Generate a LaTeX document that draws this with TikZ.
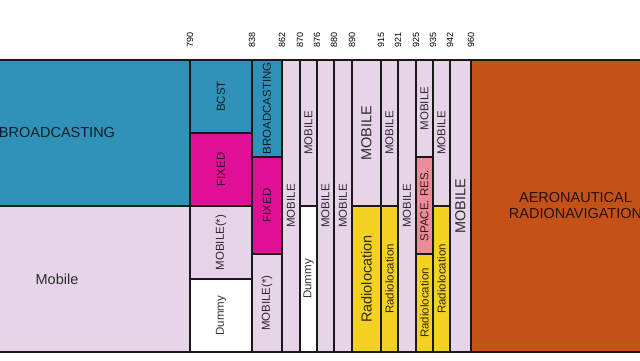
\documentclass[tikz,border=0pt]{standalone}
\usepackage{fontspec}
\setmainfont{Liberation Sans}
\definecolor{bcst}{RGB}{48,146,184}
\definecolor{fixed}{RGB}{224,16,150}
\definecolor{mobile}{RGB}{232,212,232}
\definecolor{radioloc}{RGB}{244,210,36}
\definecolor{spaceres}{RGB}{236,140,152}
\definecolor{aeronav}{RGB}{196,82,24}
\tikzset{
  cell/.style = {draw=black!90, line width=1.3pt},
  big/.style = {font=\fontsize{14.5}{16}\selectfont, text=black, text opacity=0.8},
  small/.style = {font=\fontsize{11.5}{13}\selectfont, text=black, text opacity=0.8},
  tick/.style = {font=\fontsize{9}{10}\selectfont, rotate=90, anchor=west, inner sep=0pt}
}
% \Band[label style]{name}{x1}{y1}{x2}{y2}{fill}{text}
\newcommand{\Band}[8][small,rotate=90]{%
  \draw[cell,fill=#7] (#3,#4) rectangle (#5,#6);
  \node[#1] (#2) at ({(#3+#5)/2},{(#4+#6)/2}) {#8};}

\begin{document}
\begin{tikzpicture}[x=1pt,y=-1pt]
   \useasboundingbox (0,0) rectangle (640,360);
   \clip (0,0) rectangle (640,360);
   \fill[white] (0,0) rectangle (640,360);
   % up to 790
   \Band[big]{Bcast}{-76}{60}{190}{206}{bcst}{BROADCASTING}
   \Band[big]{Mob}{-76}{206}{190}{352}{mobile}{Mobile}
   % 790 - 838
   \Band{Bcst790}{190}{60}{252}{133}{bcst}{BCST}
   \Band{Fix790}{190}{133}{252}{206}{fixed}{FIXED}
   \Band{Mob790}{190}{206}{252}{279}{mobile}{MOBILE(*)}
   \Band{Dum790}{190}{279}{252}{352}{white}{Dummy}
   % 838 - 862
   \Band{Bcast838}{252}{60}{282}{157}{bcst}{BROADCASTING}
   \Band{Fix838}{252}{157}{282}{254}{fixed}{FIXED}
   \Band{Mob838}{252}{254}{282}{352}{mobile}{MOBILE(*)}
   % 862 - 890
   \Band{Mob862}{282}{60}{300}{352}{mobile}{MOBILE}
   \Band{Mob870}{300}{60}{317}{206}{mobile}{MOBILE}
   \Band{Dum870}{300}{206}{317}{352}{white}{Dummy}
   \Band{Mob876}{317}{60}{334}{352}{mobile}{MOBILE}
   \Band{Mob880}{334}{60}{352}{352}{mobile}{MOBILE}
   % 890 - 960
   \Band[big,rotate=90]{Mob890}{352}{60}{381}{206}{mobile}{MOBILE}
   \Band[big,rotate=90]{Rad890}{352}{206}{381}{352}{radioloc}{Radiolocation}
   \Band{Mob915}{381}{60}{398}{206}{mobile}{MOBILE}
   \Band{Rad915}{381}{206}{398}{352}{radioloc}{Radiolocation}
   \Band{Mob921}{398}{60}{416}{352}{mobile}{MOBILE}
   \Band{Mob925}{416}{60}{433}{157}{mobile}{MOBILE}
   \Band{Spc925}{416}{157}{433}{254}{spaceres}{SPACE. RES.}
   \Band{Rad925}{416}{254}{433}{352}{radioloc}{Radiolocation}
   \Band{Mob935}{433}{60}{450}{206}{mobile}{MOBILE}
   \Band{Rad935}{433}{206}{450}{352}{radioloc}{Radiolocation}
   \Band[big,rotate=90]{Mob942}{450}{60}{471}{352}{mobile}{MOBILE}
   % above 960
   \Band[big,align=center]{Aero}{471}{60}{680}{352}{aeronav}{AERONAUTICAL\\RADIONAVIGATION}
   % frequency ticks
   \foreach \x/\f in {190/790,252/838,282/862,300/870,317/876,334/880,352/890,
                      381/915,398/921,416/925,433/935,450/942,471/960}
      \node[tick] (t\f) at (\x,48) {\f};
\end{tikzpicture}
\end{document}
